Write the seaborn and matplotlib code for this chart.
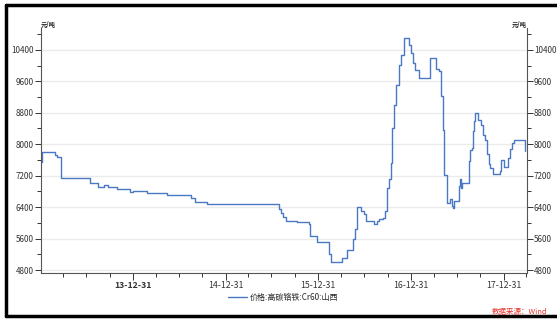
import matplotlib
matplotlib.use("Agg")
import matplotlib.pyplot as plt
import matplotlib.dates as mdates
from matplotlib.lines import Line2D
from matplotlib.ticker import MultipleLocator
import pandas as pd
import seaborn as sns

# 价格:高碳铬铁:Cr60:山西 (元/吨), step series
dates = [
    "2013-01-04", "2013-01-08", "2013-02-25", "2013-03-07", "2013-03-22",
    "2013-07-16", "2013-08-14", "2013-09-06", "2013-09-24", "2013-10-29",
    "2013-12-18", "2014-01-01", "2014-02-24", "2014-05-14", "2014-08-17",
    "2014-09-02", "2014-10-19", "2015-07-28", "2015-08-07", "2015-08-15",
    "2015-08-27", "2015-10-09", "2015-11-23", "2015-11-29", "2015-12-28",
    "2016-02-12", "2016-02-20", "2016-04-02", "2016-04-22", "2016-05-18",
    "2016-05-25", "2016-05-31", "2016-06-17", "2016-06-30", "2016-07-07",
    "2016-08-09", "2016-08-19", "2016-08-25", "2016-09-13", "2016-09-20",
    "2016-09-28", "2016-10-06", "2016-10-12", "2016-10-16", "2016-10-19",
    "2016-10-24", "2016-11-02", "2016-11-14", "2016-11-20", "2016-12-02",
    "2016-12-24", "2016-12-31", "2017-01-08", "2017-01-14", "2017-02-01",
    "2017-03-16", "2017-04-09", "2017-04-21", "2017-04-29", "2017-05-07",
    "2017-05-12", "2017-05-22", "2017-06-03", "2017-06-09", "2017-06-15",
    "2017-06-19", "2017-07-09", "2017-07-13", "2017-07-17", "2017-07-20",
    "2017-08-15", "2017-08-19", "2017-08-27", "2017-09-02", "2017-09-06",
    "2017-09-10", "2017-09-23", "2017-10-03", "2017-10-11", "2017-10-19",
    "2017-10-27", "2017-11-04", "2017-11-08", "2017-11-20", "2017-12-17",
    "2017-12-21", "2017-12-31", "2018-01-16", "2018-01-26", "2018-02-03",
    "2018-02-10", "2018-03-24",
]
prices = [
    7540, 7800, 7730, 7670, 7150,
    7020, 6900, 6950, 6910, 6850,
    6790, 6810, 6770, 6710, 6620,
    6520, 6470, 6360, 6260, 6160,
    6050, 6010, 5965, 5655, 5515,
    5205, 5010, 5095, 5305, 5585,
    5840, 6405, 6305, 6220, 6050,
    5965, 6050, 6090, 6135, 6305,
    6895, 7105, 7530, 8035, 8415,
    9005, 9515, 10020, 10275, 10700,
    10530, 10315, 10060, 9895, 9685,
    10190, 9910, 9850, 9215, 8370,
    7215, 6515, 6600, 6430, 6390,
    6560, 6935, 7105, 6895, 7020,
    7570, 7865, 7910, 8330, 8585,
    8795, 8610, 8500, 8245, 8100,
    7740, 7485, 7400, 7230, 7315,
    7595, 7420, 7655, 7885, 8035,
    8100, 7825,
]
series_name = "价格:高碳铬铁:Cr60:山西"
unit = "元/吨"
source = "数据来源：Wind"
y_ticks = [4800, 5600, 6400, 7200, 8000, 8800, 9600, 10400]
x_ticks = ["2013-12-31", "2014-12-31", "2015-12-31", "2016-12-31", "2017-12-31"]

df = pd.DataFrame({"date": pd.to_datetime(dates), "price": prices})

sns.set_style("white")
plt.rcParams["font.family"] = ["Noto Sans CJK SC", "DejaVu Sans"]

fig = plt.figure(figsize=(5.57, 3.2), dpi=100)
ax = fig.add_axes([0.073, 0.147, 0.873, 0.766])

sns.lineplot(data=df, x="date", y="price", ax=ax, color="#4a78c2",
             linewidth=1.0, drawstyle="steps-post", legend=False)

ax.set_xlim(pd.Timestamp("2013-01-01"), pd.Timestamp("2018-04-02"))
ax.set_ylim(4725, 10960)
ax.set_xlabel("")
ax.set_ylabel("")

# y axis, left and right
ax.set_yticks(y_ticks)
ax.yaxis.set_minor_locator(MultipleLocator(400))
ax.grid(axis="y", which="major", color="#ebebeb", linewidth=1.0)
ax.tick_params(axis="y", which="both", left=True, right=True,
               labelleft=True, labelright=True, direction="out",
               labelsize=5.8, colors="#333333", pad=1)
ax.tick_params(axis="y", which="major", length=4, width=0.7)
ax.tick_params(axis="y", which="minor", length=3, width=0.7)

# x axis
ax.set_xticks(pd.to_datetime(x_ticks))
ax.set_xticklabels([pd.Timestamp(d).strftime("%y-%m-%d") for d in x_ticks])
ax.xaxis.set_minor_locator(mdates.MonthLocator(bymonth=[3, 6, 9], bymonthday=30))
ax.tick_params(axis="x", which="both", bottom=True, direction="out",
               labelsize=6.3, colors="#333333", pad=0.5)
ax.tick_params(axis="x", which="major", length=5, width=0.7)
ax.tick_params(axis="x", which="minor", length=3, width=0.7)
ax.get_xticklabels()[0].set_fontweight("bold")

for side in ["left", "right", "bottom"]:
    ax.spines[side].set_visible(True)
    ax.spines[side].set_color("#555555")
    ax.spines[side].set_linewidth(0.8)
ax.spines["top"].set_visible(False)

# unit labels
ax.text(0.0, 1.0, unit, transform=ax.transAxes, fontsize=4.5,
        fontweight="bold", ha="left", va="bottom", color="#222222")
ax.text(1.0, 1.0, unit, transform=ax.transAxes, fontsize=4.5,
        fontweight="bold", ha="right", va="bottom", color="#222222")

# legend below
fig.legend(handles=[Line2D([0], [0], color="#4a78c2", linewidth=1.0)],
           labels=[series_name], loc="center", bbox_to_anchor=(0.508, 0.072),
           frameon=False, fontsize=5.8, handlelength=2.4, handletextpad=0.3)

fig.text(0.983, 0.026, source, color="#e8302a", fontsize=5.4, style="italic",
         ha="right", va="center")

# outer frame
for xs, ys in [([0.011, 0.011], [0.012, 0.985]),
               ([0.011, 1.0], [0.985, 0.985]),
               ([0.011, 1.0], [0.012, 0.012])]:
    fig.add_artist(Line2D(xs, ys, color="black", linewidth=2.5,
                          transform=fig.transFigure))

fig.savefig("out.png", dpi=100, facecolor="white")
